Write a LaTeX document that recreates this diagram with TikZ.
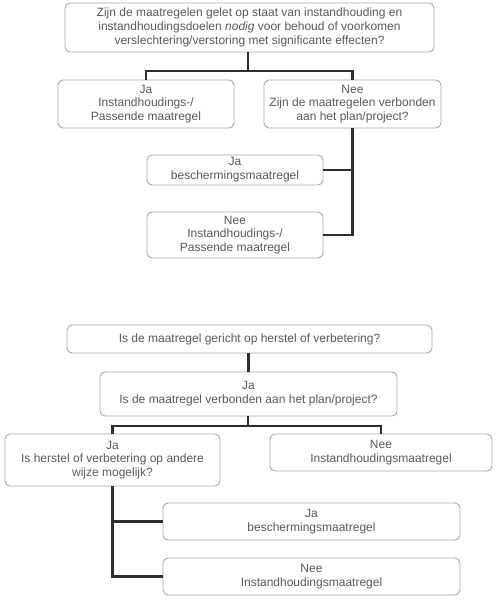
\documentclass[tikz,border=0pt]{standalone}
\usepackage{fontspec}
\setmainfont{Liberation Sans}
\definecolor{txtgrey}{HTML}{5A5A5A}
\definecolor{boxgrey}{HTML}{A8A8A8}
\definecolor{linedark}{HTML}{2E2E2E}
\begin{document}
\begin{tikzpicture}[x=1pt,y=-1pt,
  box/.style={draw=boxgrey, line width=0.9pt, rounded corners=5pt, fill=white,
    inner sep=0pt, align=center, text=txtgrey,
    font=\fontsize{12}{13.8}\selectfont},
  conn/.style={draw=linedark, line width=2.4pt}]
\useasboundingbox (0,0) rectangle (502,600);
% upper diagram
\node[box, minimum width=369pt, minimum height=49pt] (b1) at (249.5,27.5)
  {Zijn de maatregelen gelet op staat van instandhouding en\\
   instandhoudingsdoelen \textit{nodig} voor behoud of voorkomen\\
   verslechtering/verstoring met significante effecten?};
\node[box, minimum width=176pt, minimum height=48pt] (b2) at (146,104)
  {Ja\\Instandhoudings-/\\Passende maatregel};
\node[box, minimum width=177pt, minimum height=48pt] (b3) at (352.5,104)
  {Nee\\Zijn de maatregelen verbonden\\aan het plan/project?};
\node[box, minimum width=176pt, minimum height=30pt] (b4) at (235,170)
  {Ja\\beschermingsmaatregel};
\node[box, minimum width=176pt, minimum height=46pt] (b5) at (235,235)
  {Nee\\Instandhoudings-/\\Passende maatregel};
\coordinate (j1) at (248,71);
\draw[conn] (b1.south -| j1) -- (j1);
\draw[conn] (b2.north) |- (j1) -| (b3.north);
\draw[conn] (b3.south) |- (b5.east);
\draw[conn] (b4.east) -- (b4.east -| b3.south);
% lower diagram
\node[box, minimum width=365pt, minimum height=28pt] (b6) at (249.5,339)
  {Is de maatregel gericht op herstel of verbetering?};
\node[box, minimum width=297pt, minimum height=44pt] (b7) at (248.5,394)
  {Ja\\Is de maatregel verbonden aan het plan/project?};
\node[box, minimum width=215pt, minimum height=52pt] (b8) at (112.5,460)
  {Ja\\Is herstel of verbetering op andere\\wijze mogelijk?};
\node[box, minimum width=222pt, minimum height=37pt] (b9) at (381,452.5)
  {Nee\\Instandhoudingsmaatregel};
\node[box, minimum width=297pt, minimum height=37pt] (b10) at (311.5,521.5)
  {Ja\\beschermingsmaatregel};
\node[box, minimum width=297pt, minimum height=37pt] (b11) at (311.5,576.5)
  {Nee\\Instandhoudingsmaatregel};
\coordinate (j2) at (248,426);
\draw[conn] (b7.north |- b6.south) -- (b7.north);
\draw[conn] (b7.south -| j2) -- (j2);
\draw[conn] (b8.north) |- (j2) -| (b9.north);
\draw[conn] (b8.south) |- (b11.west);
\draw[conn] (b10.west) -- (b10.west -| b8.south);
\end{tikzpicture}
\end{document}
